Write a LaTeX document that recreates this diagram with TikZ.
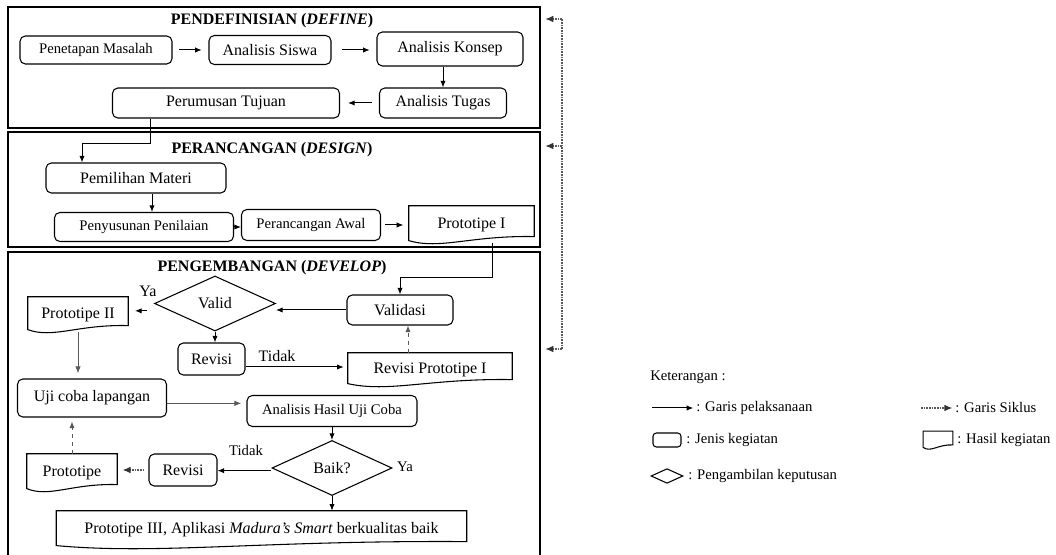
\documentclass[tikz,border=0pt]{standalone}
\usepackage{fontspec}
\setmainfont{Liberation Serif}
\usetikzlibrary{arrows.meta,calc,positioning,shapes.geometric}
\definecolor{SiklusClr}{rgb}{0.35,0.35,0.35}
\definecolor{TipisClr}{rgb}{0.35,0.35,0.35}

\newcommand\HasilShape[2][5pt]{%
  \draw[hasil line] (#2.north west) -- (#2.north east) -- ([yshift=#1]#2.south east)
    .. controls ([yshift=1.2*#1]#2.south) and ($(#2.south)!0.5!(#2.south west)+(0,-#1)$)
    .. ([yshift=0.4*#1]#2.south west) -- cycle;}

\begin{document}
\begin{tikzpicture}[x=0.75pt,y=-0.75pt,
  >={Latex[length=5pt,width=4pt]},
  fase/.style={draw,line width=2pt,inner sep=0pt},
  judul/.style={font=\fontsize{12}{14}\selectfont\bfseries},
  kegiatan/.style={draw,rounded corners=4pt,line width=0.8pt,inner sep=2pt,font=\fontsize{12}{14}\selectfont},
  kecil/.style={font=\fontsize{11}{13}\selectfont},
  hasil/.style={inner sep=2pt,font=\fontsize{12}{14}\selectfont},
  hasil line/.style={line width=0.8pt},
  putusan/.style={draw,diamond,aspect=2.2,inner sep=0pt,line width=0.8pt,font=\fontsize{12}{14}\selectfont},
  label/.style={font=\fontsize{12}{14}\selectfont,inner sep=0pt},
  alur/.style={->,line width=0.75pt},
  tipis/.style={->,line width=0.5pt,TipisClr},
  putus/.style={->,line width=0.6pt,dashed,TipisClr},
  siklus/.style={line width=0.9pt,SiklusClr,dash pattern=on 1.3pt off 0.7pt},
  siklus tip/.style={-{Latex[length=6pt,width=5pt,black!80]}},
  ket/.style={font=\fontsize{11}{13}\selectfont,anchor=west,inner sep=0pt}]
\useasboundingbox (0,0) rectangle (1056,555);

\node[fase,minimum width=399pt,minimum height=90.75pt] (define) at (274,67.5) {};
\node[fase,minimum width=399pt,minimum height=86.25pt] (design) at (274,189.5) {};
\node[fase,minimum width=399pt,minimum height=242.25pt] (develop) at (274,413.5) {};
\node[judul] (tDefine) at (272,21) {PENDEFINISIAN (\textit{DEFINE})};
\node[judul] (tDesign) at (272,150) {PERANCANGAN (\textit{DESIGN})};
\node[judul] (tDevelop) at (272,268) {PENGEMBANGAN (\textit{DEVELOP})};

% define
\node[kegiatan,kecil,minimum width=114pt,minimum height=21pt] (masalah) at (96,50) {Penetapan Masalah};
\node[kegiatan,minimum width=91.5pt,minimum height=21.75pt] (siswa) at (270,50) {Analisis Siswa};
\node[kegiatan,minimum width=109.5pt,minimum height=25.5pt] (konsep) at (450,49) {Analisis Konsep};
\node[kegiatan,minimum width=95.25pt,minimum height=22.5pt] (tugas) at (443,103) {Analisis Tugas};
\node[kegiatan,minimum width=170.25pt,minimum height=22.5pt] (tujuan) at (226,103) {Perumusan Tujuan};

\draw[alur,shorten <=5pt,shorten >=5pt] (masalah) -- (siswa);
\draw[alur,shorten <=8pt,shorten >=5pt] (siswa) -- (konsep.west |- siswa);
\draw[alur] (konsep.south -| tugas.north) -- (tugas.north);
\draw[alur,shorten <=5pt,shorten >=6pt] (tugas) -- (tujuan);

% design
\node[kegiatan,minimum width=135pt,minimum height=22.5pt] (materi) at (136,178) {Pemilihan Materi};
\node[kegiatan,kecil,minimum width=134.25pt,minimum height=21.75pt] (penilaian) at (144,227) {Penyusunan Penilaian};
\node[kegiatan,kecil,minimum width=104.25pt,minimum height=23.25pt] (awal) at (311,225) {Perancangan Awal};
\node[hasil,minimum width=93.75pt,minimum height=27.75pt] (proto1) at (471.5,224.5) {Prototipe I};

\draw[alur] ([xshift=-57pt]tujuan.south) -- ++(0,25) -| ([xshift=-40.5pt]materi.north);
\draw[alur] ([xshift=12pt]materi.south) -- ([xshift=12pt]materi.south |- penilaian.north);
\draw[alur] (penilaian.east) -- (awal.west |- penilaian.east);
\draw[alur,shorten <=3pt,shorten >=4pt] (awal.east) -- (proto1.west |- awal.east);

% develop
\node[kegiatan,minimum width=79.5pt,minimum height=22.5pt] (validasi) at (400,310) {Validasi};
\node[putusan,minimum width=90.75pt,minimum height=41.25pt] (valid) at (215,303.5) {Valid};
\node[hasil,minimum width=75pt,minimum height=26.25pt] (proto2) at (78,314.5) {Prototipe II};
\node[kegiatan,minimum width=50.25pt,minimum height=24pt] (revisi1) at (211.5,359) {Revisi};
\node[hasil,minimum width=123pt,minimum height=24.75pt] (revproto) at (430,369.5) {Revisi Prototipe I};
\node[kegiatan,minimum width=111.75pt,minimum height=28.5pt] (ujicoba) at (92,398) {Uji coba lapangan};
\node[kegiatan,kecil,minimum width=127.5pt,minimum height=23.25pt] (hasiluji) at (332,411) {Analisis Hasil Uji Coba};
\node[putusan,minimum width=90pt,minimum height=41.25pt] (baik) at (332,468) {Baik?};
\node[kegiatan,minimum width=51pt,minimum height=24pt] (revisi2) at (183,470) {Revisi};
\node[hasil,minimum width=67.5pt,minimum height=27.75pt] (proto) at (72,472.5) {Prototipe};
\node[hasil,minimum width=307.5pt,minimum height=27.75pt] (proto3) at (261.5,529.5) {Prototipe III, Aplikasi \textit{Madura's Smart} berkualitas baik};
\foreach \n in {proto1,proto2,revproto,proto,proto3} {\HasilShape{\n}}

\node[label] (ya1) at (148,291) {Ya};
\node[label] (tidak1) at (277,356) {Tidak};
\node[label,kecil] (tidak2) at (246,450) {Tidak};
\node[label,kecil] (ya2) at (405,467) {Ya};

\draw[alur] ([xshift=16pt]proto1.south) -- ++(0,34) -| (validasi.north);
\draw[alur] (validasi.west) -- (valid.east |- validasi.west);
\draw[alur,shorten <=5pt,shorten >=5pt] ([yshift=-5.5pt]valid.west) -- ([yshift=-5.5pt]valid.west -| proto2.east);
\draw[alur] (valid.south) -- (valid.south |- revisi1.north);
\draw[alur,shorten >=3pt] ([yshift=-6pt]revisi1.east) -- ([yshift=-6pt]revisi1.east -| revproto.west);
\draw[putus] ([xshift=6pt]validasi.south |- revproto.north) -- ([xshift=6pt]validasi.south);
\draw[tipis,shorten >=4pt] (proto2.south) -- (proto2.south |- ujicoba.north);
\draw[tipis,shorten >=4pt] ([yshift=-4pt]ujicoba.east) -- ([yshift=-4pt]ujicoba.east -| hasiluji.west);
\draw[alur] (hasiluji.south) -- (baik.north);
\draw[alur] ([yshift=-2pt]baik.west) -- ([yshift=-2pt]baik.west -| revisi2.east);
\draw[siklus,siklus tip,shorten <=3pt,shorten >=4pt] (revisi2.west) -- (proto.east |- revisi2.west);
\draw[putus,shorten >=3pt] (proto.north) -- (proto.north |- ujicoba.south);
\draw[alur] (baik.south) -- (baik.south |- proto3.north);

% siklus
\coordinate (c1) at (562,19);
\coordinate (c2) at (562,146);
\coordinate (c3) at (562,349);
\draw[siklus] (c3) -- (c1);
\foreach \c/\b in {c1/define,c2/design,c3/develop}
  \draw[siklus,siklus tip,shorten >=3pt] (\c) -- (\c -| \b.east);

% keterangan
\node[ket] (keterangan) at (650,377) {Keterangan :};
\coordinate (lg1) at (652,408);
\coordinate (lg2) at (921,408);
\node[ket] (pelaksanaan) at (696,408) {: Garis pelaksanaan};
\node[ket] (siklusket) at (955,408) {: Garis Siklus};
\draw[alur,shorten >=2pt] (lg1) -- (pelaksanaan.west);
\draw[siklus,siklus tip,shorten >=2pt] (lg2) -- (siklusket.west);
\node[kegiatan,minimum width=21pt,minimum height=10.5pt,inner sep=0pt,rounded corners=2.5pt] (lgkeg) at (667,440) {};
\node[ket] (jenis) at (686,440) {: Jenis kegiatan};
\node[hasil,minimum width=22pt,minimum height=13pt,inner sep=0pt] (lghasil) at (938,440) {};
\HasilShape[3pt]{lghasil}
\node[ket] (hasilket) at (957,440) {: Hasil kegiatan};
\node[putusan,minimum width=24pt,minimum height=11pt] (lgput) at (667,476) {};
\node[ket] (putusanket) at (688,476) {: Pengambilan keputusan};
\end{tikzpicture}
\end{document}
